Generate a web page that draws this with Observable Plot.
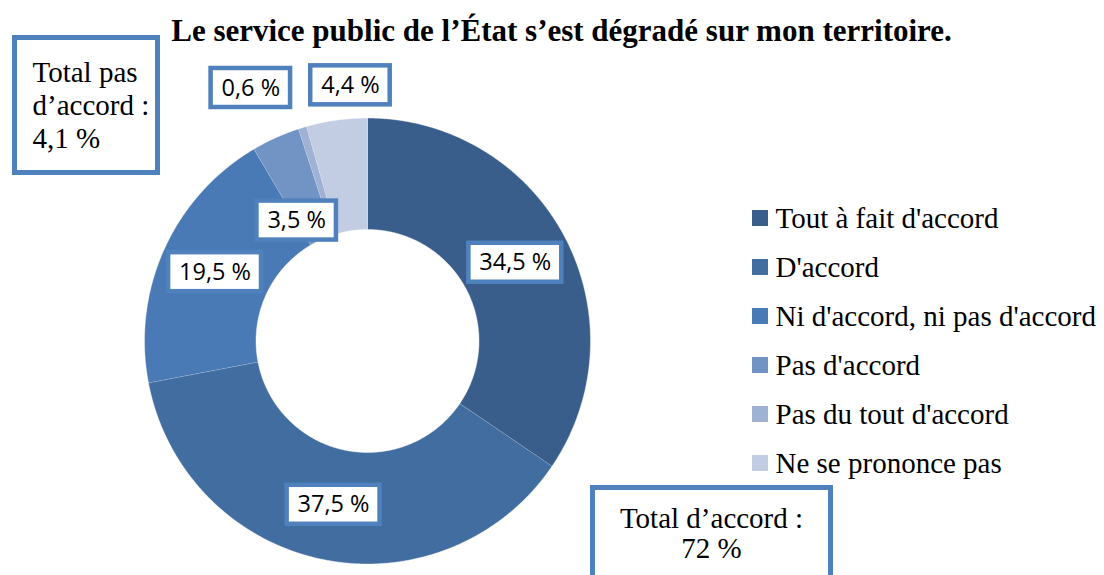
<!DOCTYPE html>
<html><head><meta charset="utf-8">
<script src="https://cdn.jsdelivr.net/npm/d3@7"></script>
<script src="https://cdn.jsdelivr.net/npm/@observablehq/plot@0.6"></script>
<style>body{margin:0;background:#fff;overflow:hidden}</style>
</head><body><div id="chart"></div>
<script>
// ---- data ----
const title = "Le service public de l’État s’est dégradé sur mon territoire.";
const categories = ["Tout à fait d'accord", "D'accord", "Ni d'accord, ni pas d'accord", "Pas d'accord", "Pas du tout d'accord", "Ne se prononce pas"];
const values = [34.5, 37.5, 19.5, 3.5, 0.6, 4.4];
const valueLabels = ["34,5 %", "37,5 %", "19,5 %", "3,5 %", "0,6 %", "4,4 %"];
const colors = ["#3A5E8C", "#426DA0", "#4A7AB6", "#7294C5", "#9FB2D4", "#C2CCE2"];
const totalAgreeText = "Total d’accord :\n72 %";
const totalDisagreeText = "Total pas\nd’accord :\n4,1 %";

// ---- layout ----
const W = 1104, H = 575;
const cx = 367, cy = 340.5, R = 223, R0 = 111.5;
const labelFont = "Open Sans", labelSize = 23.5;
const serif = "Liberation Serif";
const boxBlue = "#4F81BD";
// manual label nudges (Excel moved some labels)
const nudges = [[0, 0], [0, 0], [0, 0], [-2, 32], [-68, -93], [6, -90]];

const rows = categories.map((c, i) => ({key: c, value: values[i], label: valueLabels[i], i}));
const arcs = d3.pie().sort(null).value(d => d.value)(rows);

const ring = [];
for (const a of arcs) {
  const n = Math.max(2, Math.ceil((a.endAngle - a.startAngle) / 0.005));
  for (let k = 0; k <= n; k++) {
    const t = a.startAngle + (a.endAngle - a.startAngle) * k / n;
    ring.push({key: a.data.key, x: cx + R * Math.sin(t), y: cy - R * Math.cos(t)});
  }
  for (let k = n; k >= 0; k--) {
    const t = a.startAngle + (a.endAngle - a.startAngle) * k / n;
    ring.push({key: a.data.key, x: cx + R0 * Math.sin(t), y: cy - R0 * Math.cos(t)});
  }
}

const ctx = document.createElement("canvas").getContext("2d");
ctx.font = `${labelSize}px "${labelFont}"`;
const rm = (R + R0) / 2;
const labels = arcs.map((a, i) => {
  const m = (a.startAngle + a.endAngle) / 2;
  const x = cx + rm * Math.sin(m) + nudges[i][0];
  const y = cy - rm * Math.cos(m) + nudges[i][1];
  const w = ctx.measureText(a.data.label).width + 21;
  return {label: a.data.label, x, y, x1: x - w / 2, x2: x + w / 2, y1: y - 19.5, y2: y + 19.5};
});

const legend = rows.map((d, i) => ({key: d.key, y: 218 + i * 49}));

const totals = [
  {text: totalDisagreeText, x1: 14.5, x2: 157.5, y1: 37.5, y2: 172.5, tx: 32, ty: 147, anchor: "start"},
  {text: totalAgreeText, x1: 592.5, x2: 830.5, y1: 487.5, y2: 620, tx: 711, ty: 557, anchor: "middle"}
];

const chart = Plot.plot({
  width: W, height: H,
  margin: 0,
  x: {domain: [0, W], range: [0, W], axis: null},
  y: {domain: [0, H], range: [0, H], axis: null},
  color: {type: "ordinal", domain: categories, range: colors},
  style: {background: "white"},
  marks: [
    Plot.line(ring, {x: "x", y: "y", z: "key", fill: "key", stroke: "white", strokeWidth: 0.6, strokeOpacity: 0.7, curve: "linear"}),
    Plot.rect(labels, {x1: "x1", x2: "x2", y1: "y1", y2: "y2", fill: "white", stroke: boxBlue, strokeWidth: 4.5}),
    Plot.text(labels, {x: "x", y: "y", text: "label", fontFamily: labelFont, fontSize: labelSize, fill: "black", lineAnchor: "middle"}),
    Plot.rect(totals, {x1: "x1", x2: "x2", y1: "y1", y2: "y2", fill: "white", stroke: boxBlue, strokeWidth: 5, clip: true}),
    Plot.text(totals.slice(0, 1), {x: "tx", y: "ty", text: "text", textAnchor: "start", lineAnchor: "bottom", lineHeight: 1.13, fontFamily: serif, fontSize: 29, fill: "black"}),
    Plot.text(totals.slice(1), {x: "tx", y: "ty", text: "text", textAnchor: "middle", lineAnchor: "bottom", lineHeight: 1.03, fontFamily: serif, fontSize: 29, fill: "black"}),
    Plot.rect(legend, {x1: 752, x2: 768, y1: d => d.y - 8, y2: d => d.y + 8, fill: "key"}),
    Plot.text(legend, {x: 775, y: "y", text: "key", textAnchor: "start", lineAnchor: "middle", fontFamily: serif, fontSize: 29, fill: "black"}),
    Plot.text([title], {x: 561, y: 40, text: d => d, textAnchor: "middle", lineAnchor: "bottom", fontFamily: serif, fontWeight: "bold", fontSize: 31, fill: "black"})
  ]
});
document.getElementById("chart").appendChild(chart);
</script>
</body></html>
